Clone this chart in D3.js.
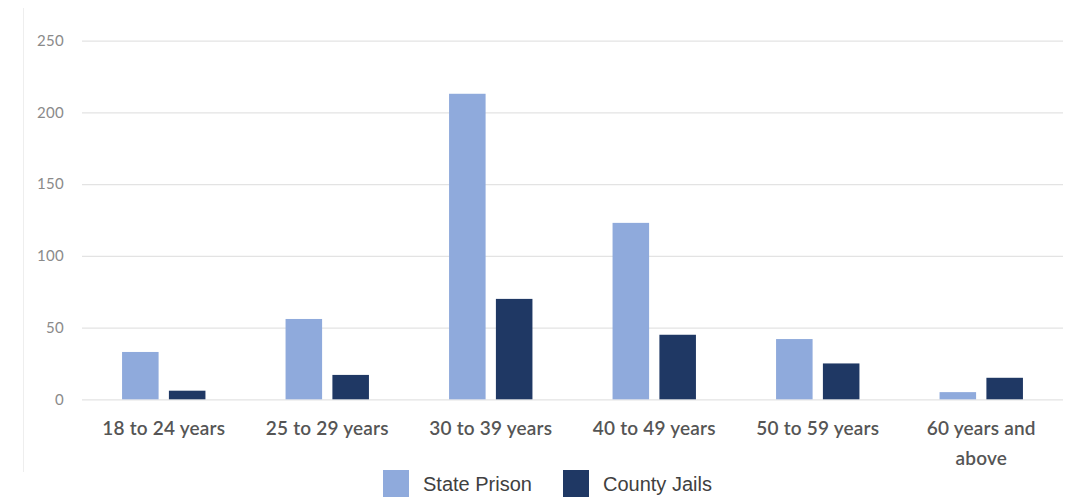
<!DOCTYPE html>
<html>
<head>
<meta charset="utf-8">
<script src="https://cdn.jsdelivr.net/npm/d3@7"></script>
<style>
  html, body { margin: 0; padding: 0; background: #fff; }
  svg { display: block; }
</style>
</head>
<body>
<svg id="chart" width="1066" height="497"></svg>
<script>
const categories = ["18 to 24 years", "25 to 29 years", "30 to 39 years", "40 to 49 years", "50 to 59 years", "60 years and above"];
const seriesNames = ["State Prison", "County Jails"];
const statePrison = [33, 56, 213, 123, 42, 5];
const countyJails = [6, 17, 70, 45, 25, 15];
const yTicks = [0, 50, 100, 150, 200, 250];
const colors = ["#8FAADC", "#1F3864"];

const svg = d3.select("#chart");
const plotLeft = 82, plotRight = 1063, plotTop = 40.7, plotBottom = 399.3;

const x0 = d3.scaleBand().domain(categories).range([plotLeft, plotRight]).paddingInner(0.49).paddingOuter(0.245);
const x1 = d3.scaleBand().domain(seriesNames).range([0, x0.bandwidth()]).paddingInner(0.22).paddingOuter(0);
const y = d3.scaleLinear().domain([0, 250]).range([plotBottom, plotTop]);

// faint left border
svg.append("line").attr("x1", 23.5).attr("x2", 23.5).attr("y1", 8).attr("y2", 472)
  .attr("stroke", "#eeeeee").attr("stroke-width", 1);

// y axis grid + labels
const yAxis = d3.axisLeft(y).tickValues(yTicks).tickSize(-(plotRight - plotLeft)).tickPadding(18);
const gy = svg.append("g").attr("transform", `translate(${plotLeft},0)`).call(yAxis);
gy.select(".domain").remove();
gy.selectAll(".tick line").attr("stroke", "#e3e3e3").attr("stroke-width", 1.3);
gy.selectAll(".tick text").attr("fill", "#8a8a8a")
  .style("font-family", "Lato, 'Open Sans', sans-serif").style("font-size", "15px")
  .style("letter-spacing", "0.3px");

// bars
const data = categories.map((c, i) => ({ cat: c, vals: [statePrison[i], countyJails[i]] }));
const groups = svg.append("g").selectAll("g").data(data).join("g")
  .attr("transform", d => `translate(${x0(d.cat)},0)`);
groups.selectAll("rect").data(d => d.vals.map((v, j) => ({ name: seriesNames[j], v, j })))
  .join("rect")
  .attr("x", d => x1(d.name))
  .attr("width", x1.bandwidth())
  .attr("y", d => y(d.v))
  .attr("height", d => y(0) - y(d.v))
  .attr("fill", d => colors[d.j]);

// x axis labels
const xAxis = d3.axisBottom(x0).tickSize(0).tickPadding(0);
const gx = svg.append("g").attr("transform", `translate(0,${plotBottom})`).call(xAxis);
gx.select(".domain").remove();
gx.selectAll(".tick text").each(function(d) {
  const t = d3.select(this);
  t.text(null).attr("y", 0).attr("dy", null)
    .attr("fill", "#555555")
    .style("font-family", "Lato, 'Open Sans', sans-serif")
    .style("font-size", "19px")
    .style("font-weight", "600")
    .style("letter-spacing", "0.2px");
  const lines = d === "60 years and above" ? ["60 years and", "above"] : [d];
  lines.forEach((ln, k) => {
    t.append("tspan").attr("x", 0).attr("y", 36 + k * 30).text(ln);
  });
});

// legend
const legend = svg.append("g");
const legendX = [383, 563];
seriesNames.forEach((n, i) => {
  legend.append("rect").attr("x", legendX[i]).attr("y", 470).attr("width", 26).attr("height", 27).attr("fill", colors[i]);
  legend.append("text").attr("x", legendX[i] + 40).attr("y", 491)
    .attr("fill", "#404040")
    .style("font-family", "'Liberation Sans', Arial, sans-serif")
    .style("font-size", "20px")
    .text(n);
});
</script>
</body>
</html>
